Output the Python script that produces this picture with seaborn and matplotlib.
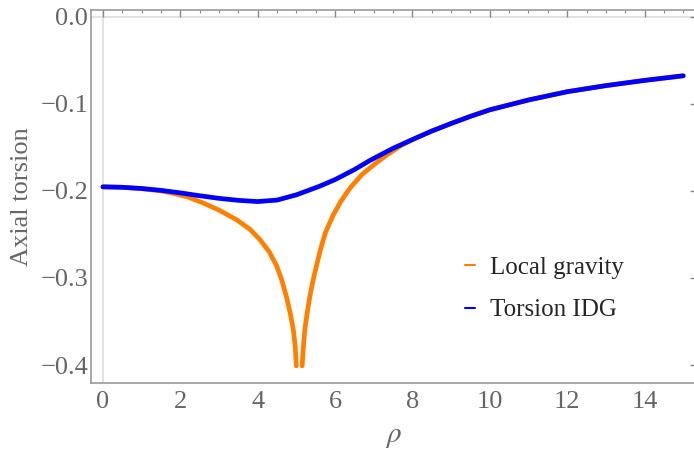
import matplotlib
matplotlib.use("Agg")
import matplotlib.pyplot as plt
import seaborn as sns
import pandas as pd
import numpy as np
from matplotlib.ticker import MultipleLocator
from matplotlib.lines import Line2D

# values
rho_local = [0, 0.5, 1, 1.5, 1.75, 2.2, 2.6, 3.0, 3.45, 3.8, 4.06, 4.3, 4.49, 4.62, 4.74,
             4.84, 4.92, 4.97, 5.0]
tors_local = [-0.1953, -0.1958, -0.1974, -0.2000, -0.2020, -0.207, -0.214, -0.222, -0.233,
              -0.244, -0.256, -0.270, -0.286, -0.302, -0.321, -0.340, -0.359, -0.378, -0.401]
rho_local2 = [5.15, 5.18, 5.22, 5.28, 5.35, 5.43, 5.52, 5.62, 5.75, 5.95, 6.15, 6.4, 6.7,
              7.0, 7.33, 7.7, 8.0, 8.5, 9.0, 9.5, 10, 11, 12, 13, 14, 15]
tors_local2 = [-0.401, -0.380, -0.359, -0.340, -0.321, -0.303, -0.286, -0.268, -0.248, -0.228,
               -0.212, -0.196, -0.181, -0.170, -0.159, -0.148, -0.141, -0.1312, -0.1225,
               -0.1143, -0.1068, -0.0955, -0.0860, -0.0790, -0.0730, -0.0677]

rho_idg = [0, 0.5, 1, 1.5, 2, 2.5, 3, 3.5, 4, 4.5, 5, 5.6, 6.0, 6.5, 6.9, 7.5, 8.0, 8.5,
           9.0, 9.5, 10, 11, 12, 13, 14, 15]
tors_idg = [-0.1953, -0.1958, -0.1972, -0.1993, -0.2022, -0.2055, -0.2085, -0.2108, -0.2122,
            -0.2105, -0.2045, -0.1946, -0.187, -0.1755, -0.165, -0.151, -0.141, -0.1312,
            -0.1225, -0.1143, -0.1068, -0.0955, -0.0860, -0.0790, -0.0730, -0.0677]

df = pd.concat([
    pd.DataFrame({'rho': rho_local, 'T': tors_local, 'curve': 'Local gravity', 'seg': 'a'}),
    pd.DataFrame({'rho': rho_local2, 'T': tors_local2, 'curve': 'Local gravity', 'seg': 'b'}),
    pd.DataFrame({'rho': rho_idg, 'T': tors_idg, 'curve': 'Torsion IDG', 'seg': 'c'}),
])

sns.set_style('white')
plt.rcParams['font.family'] = ['Liberation Serif', 'DejaVu Serif']
plt.rcParams['mathtext.fontset'] = 'stix'

gray = '#666666'
fig = plt.figure(figsize=(6.94, 4.5), dpi=100)
ax = fig.add_axes([0.131, 0.149, 0.873, 0.829])

ax.axhline(0, color='#dddddd', lw=1.2, zorder=0)
ax.axvline(0, color='#dddddd', lw=1.2, zorder=0)

palette = {'Local gravity': '#ff8000', 'Torsion IDG': '#0000ff'}
sns.lineplot(data=df, x='rho', y='T', hue='curve', units='seg', estimator=None,
             palette=palette, lw=3.4, ax=ax, sort=False, legend=False)

ax.set_xlim(-0.31, 15.35)
ax.set_ylim(-0.4206, 0.008)
ax.xaxis.set_major_locator(MultipleLocator(2))
ax.xaxis.set_minor_locator(MultipleLocator(0.5))
ax.yaxis.set_major_locator(MultipleLocator(0.1))
ax.yaxis.set_minor_locator(MultipleLocator(0.02))
ax.yaxis.set_major_formatter(plt.FuncFormatter(
    lambda v, p: f'{v:.1f}'.replace('-', '\u2212') if abs(v) > 1e-9 else '0.0'))

for s in ax.spines.values():
    s.set_color('#999999')
    s.set_linewidth(1.2)
ax.tick_params(which='both', direction='in', top=True, right=True, colors='#888888',
               labelcolor=gray, labelsize=19)
ax.tick_params(which='major', length=5, width=1)
ax.tick_params(which='minor', length=2.5, width=0.8)
ax.tick_params(axis='y', pad=2)
ax.tick_params(axis='x', pad=6)

ax.set_xlabel(r'$\rho$', fontsize=21, color=gray, labelpad=8)
ax.set_ylabel('Axial torsion', fontsize=19, color=gray, labelpad=5)

handles = [Line2D([], [], color=palette[k], lw=1.5) for k in palette]
ax.legend(handles, list(palette), loc='center left', bbox_to_anchor=(0.617, 0.252),
          frameon=False, fontsize=18, handlelength=0.4, handletextpad=0.6,
          labelspacing=0.8, borderaxespad=0, borderpad=0)

fig.savefig('out.png', dpi=100)
